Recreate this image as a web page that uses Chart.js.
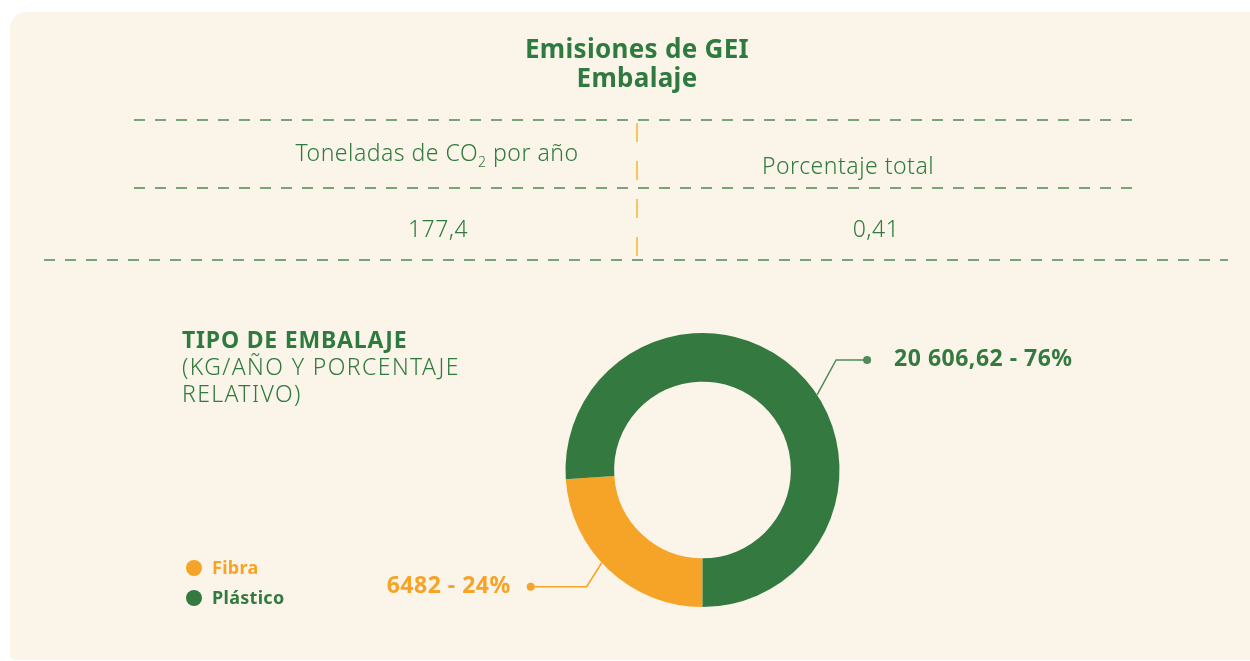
<!DOCTYPE html>
<html>
<head>
<meta charset="utf-8">
<script src="https://cdn.jsdelivr.net/npm/chart.js@4.4.0/dist/chart.umd.min.js"></script>
<style>
  html, body { margin: 0; padding: 0; background: #ffffff; }
  canvas { display: block; }
</style>
</head>
<body>
<canvas id="chart" width="1250" height="661"></canvas>
<script>
// data
const labels = ["Fibra", "Plástico"];
const values = [6482, 20606.62];
const valueLabels = ["6482", "20 606,62"];
const percentLabels = ["24%", "76%"];
const tableHeaders = ["Toneladas de CO|2| por año", "Porcentaje total"];
const tableValues = ["177,4", "0,41"];

const GREEN = "#347a40";
const ORANGE = "#f5a427";
const TEXT_GREEN = "#2f7a3e";
const CARD = "#fbf4e9";
const FONT = "'Noto Sans', 'Open Sans', sans-serif";

// leader line style per slice (anchor fraction along arc, elbow offset, horizontal run)
const leaderStyle = [
    {frac: 0.55, dx: -15, dy: 24, run: -56, color: ORANGE},
    {frac: 0.55, dx: 19, dy: -35, run: 31, color: "#4f8a58"}
];

function dashedLine(ctx, x1, y1, x2, y2, dash, color, width) {
    ctx.save();
    ctx.strokeStyle = color;
    ctx.lineWidth = width;
    ctx.setLineDash(dash);
    ctx.beginPath();
    ctx.moveTo(x1, y1);
    ctx.lineTo(x2, y2);
    ctx.stroke();
    ctx.restore();
}

// draws text with a |sub| part as subscript, centered on cx
function drawSubText(ctx, text, cx, y, size) {
    const parts = text.split("|");
    const big = `300 ${size}px ${FONT}`;
    const small = `300 ${Math.round(size * 0.6)}px ${FONT}`;
    let total = 0;
    parts.forEach((p, i) => {
        ctx.font = i % 2 ? small : big;
        total += ctx.measureText(p).width;
    });
    let x = cx - total / 2;
    ctx.textAlign = "left";
    parts.forEach((p, i) => {
        ctx.font = i % 2 ? small : big;
        ctx.fillText(p, x, i % 2 ? y + 6 : y);
        x += ctx.measureText(p).width;
    });
}

const backgroundPlugin = {
    id: "card",
    beforeDraw(chart) {
        const ctx = chart.ctx;
        ctx.save();
        ctx.fillStyle = "#ffffff";
        ctx.fillRect(0, 0, chart.width, chart.height);
        ctx.fillStyle = CARD;
        ctx.beginPath();
        ctx.roundRect(10, 12, 1260, 648, [16, 16, 6, 6]);
        ctx.fill();
        ctx.restore();
    }
};

const decorPlugin = {
    id: "decor",
    afterDraw(chart) {
        const ctx = chart.ctx;
        ctx.save();
        ctx.fillStyle = TEXT_GREEN;
        ctx.textBaseline = "alphabetic";

        // title
        ctx.textAlign = "center";
        ctx.letterSpacing = "0.3px";
        ctx.font = `bold 26px ${FONT}`;
        ctx.fillText("Emisiones de GEI", 637, 58);
        ctx.fillText("Embalaje", 637, 87);

        // table
        dashedLine(ctx, 134, 120, 1142, 120, [11, 10], "#4c8a55", 1.6);
        dashedLine(ctx, 134, 188, 1142, 188, [11, 10], "#4c8a55", 1.6);
        dashedLine(ctx, 44, 260, 1228, 260, [11, 10], "#4c8a55", 1.6);
        dashedLine(ctx, 637, 123, 637, 258, [19, 19], "#f5b731", 1.5);

        ctx.fillStyle = TEXT_GREEN;
        ctx.letterSpacing = "0.5px";
        drawSubText(ctx, tableHeaders[0], 437, 161, 23);
        ctx.textAlign = "center";
        ctx.font = `300 23px ${FONT}`;
        ctx.fillText(tableHeaders[1], 848, 174);
        ctx.fillText(tableValues[0], 438, 237);
        ctx.fillText(tableValues[1], 876, 237);

        // section heading
        ctx.textAlign = "left";
        ctx.letterSpacing = "0.8px";
        ctx.font = `bold 23px ${FONT}`;
        ctx.fillText("TIPO DE EMBALAJE", 182, 348);
        ctx.letterSpacing = "1.4px";
        ctx.font = `300 23px ${FONT}`;
        ctx.fillText("(KG/AÑO Y PORCENTAJE", 182, 375);
        ctx.fillText("RELATIVO)", 182, 402);

        // legend
        const colors = chart.data.datasets[0].backgroundColor;
        ctx.letterSpacing = "0.3px";
        chart.data.labels.forEach((lab, i) => {
            const y = 568 + i * 30;
            ctx.fillStyle = colors[i];
            ctx.beginPath();
            ctx.arc(194, y, 8, 0, Math.PI * 2);
            ctx.fill();
            ctx.font = `bold 18px ${FONT}`;
            ctx.textBaseline = "middle";
            ctx.fillText(lab, 212, y + 1);
        });
        ctx.restore();
    },
    afterDatasetsDraw(chart) {
        const ctx = chart.ctx;
        const meta = chart.getDatasetMeta(0);
        ctx.save();
        meta.data.forEach((arc, i) => {
            const st = leaderStyle[i];
            const p = arc.getProps(["x", "y", "startAngle", "endAngle", "outerRadius"], true);
            const a = p.startAngle + (p.endAngle - p.startAngle) * st.frac;
            const ax = p.x + Math.cos(a) * p.outerRadius;
            const ay = p.y + Math.sin(a) * p.outerRadius;
            const ex = ax + st.dx;
            const ey = ay + st.dy;
            const dx = ex + st.run;
            ctx.strokeStyle = st.color;
            ctx.lineWidth = 1.5;
            ctx.beginPath();
            ctx.moveTo(ax, ay);
            ctx.lineTo(ex, ey);
            ctx.lineTo(dx, ey);
            ctx.stroke();
            ctx.fillStyle = st.color;
            ctx.beginPath();
            ctx.arc(dx, ey, 4, 0, Math.PI * 2);
            ctx.fill();

            const txt = valueLabels[i] + " - " + percentLabels[i];
            ctx.font = `bold 23px ${FONT}`;
            ctx.letterSpacing = "0.5px";
            ctx.textBaseline = "middle";
            ctx.fillStyle = chart.data.datasets[0].backgroundColor[i];
            if (st.run < 0) {
                ctx.textAlign = "right";
                ctx.fillText(txt, dx - 20, ey);
            } else {
                ctx.textAlign = "left";
                ctx.fillText(txt, dx + 27, ey);
            }
        });
        ctx.restore();
    }
};

new Chart(document.getElementById("chart"), {
    type: "doughnut",
    data: {
        labels: labels,
        datasets: [{
            data: values,
            backgroundColor: [ORANGE, GREEN],
            borderWidth: 0
        }]
    },
    options: {
        responsive: false,
        animation: false,
        rotation: 180,
        cutout: "64.5%",
        layout: {
            padding: {left: 565, right: 410, top: 333, bottom: 54}
        },
        plugins: {
            legend: {display: false},
            tooltip: {enabled: false}
        }
    },
    plugins: [backgroundPlugin, decorPlugin]
});
</script>
</body>
</html>
